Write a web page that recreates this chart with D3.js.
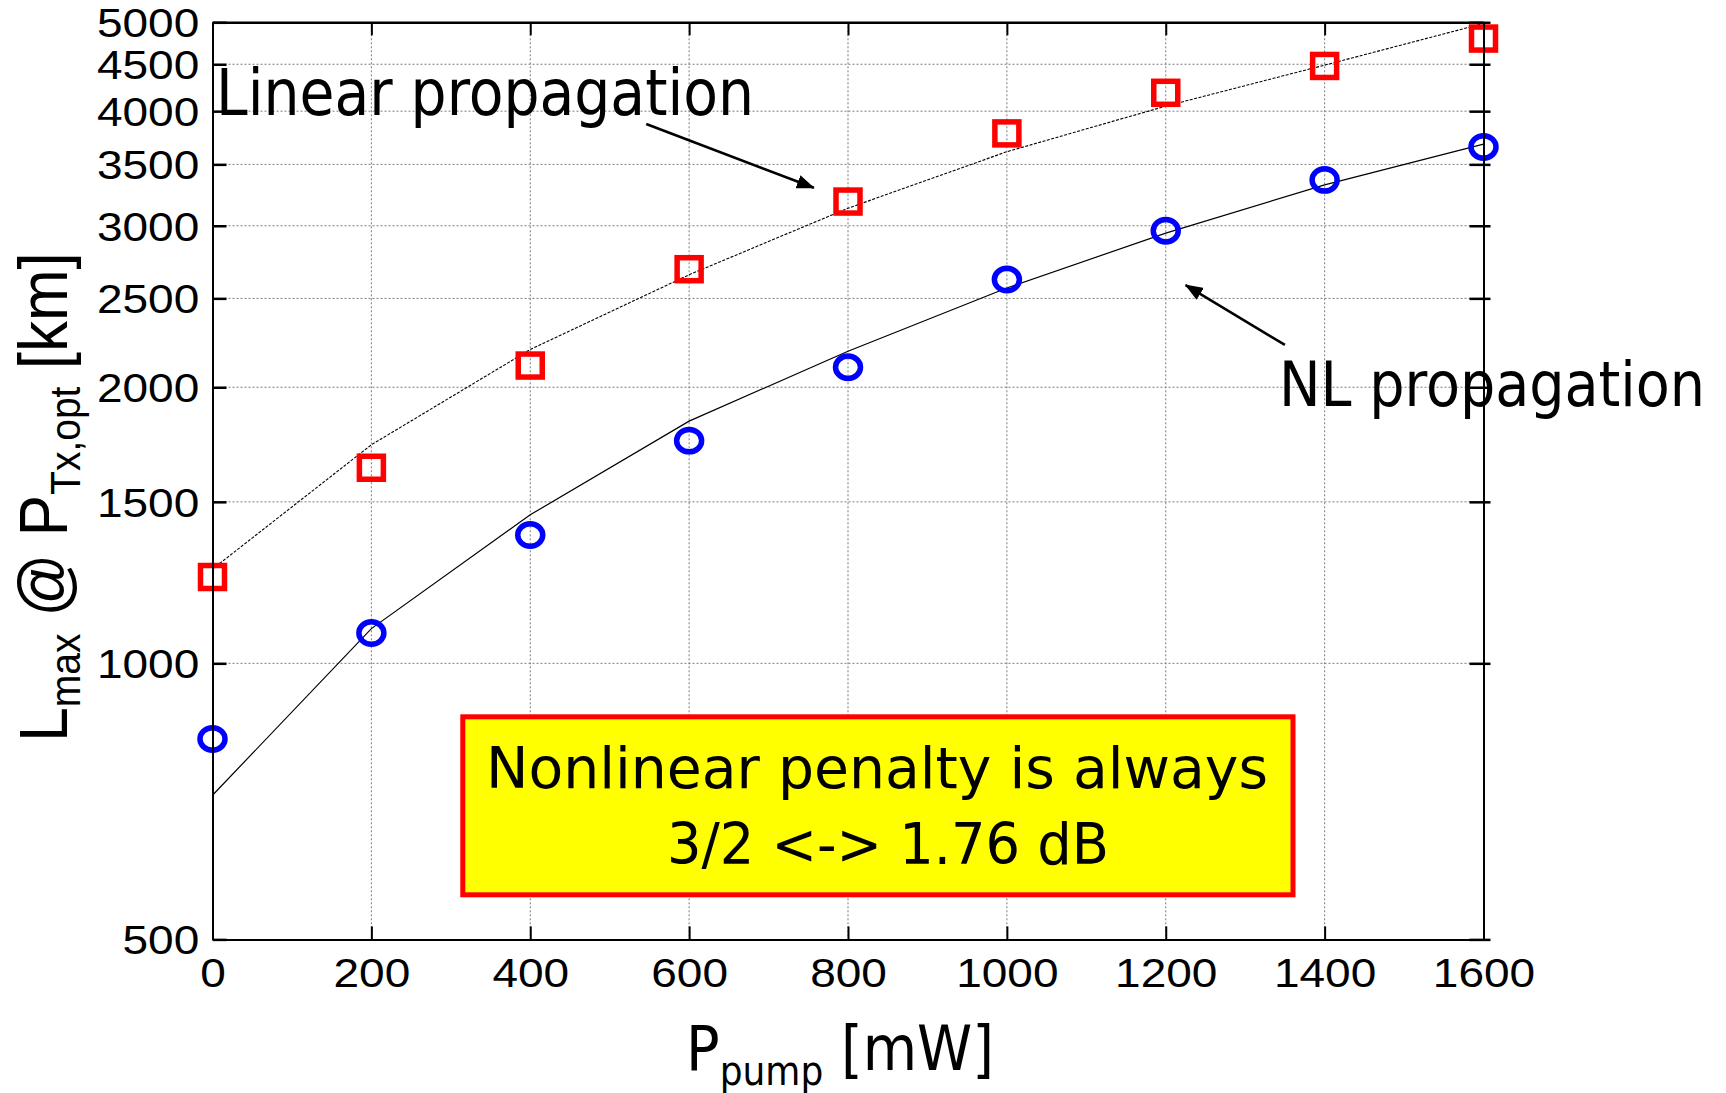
<!DOCTYPE html>
<html>
<head>
<meta charset="utf-8">
<script src="https://cdn.jsdelivr.net/npm/d3@7"></script>
<style>
  body { margin: 0; background: #fff; }
  svg { display: block; }
</style>
</head>
<body>
<div id="chart-container"></div>
<script>
// pump power on the x axis [mW]
const pumpPower = [0, 200, 400, 600, 800, 1000, 1200, 1400, 1600];
// simulated reach, red squares (linear propagation) [km]
const linearSim = [1242, 1634, 2112, 2690, 3188, 3783, 4189, 4481, 4800];
// simulated reach, blue circles (NL propagation) [km]
const nlSim = [827, 1079, 1380, 1749, 2103, 2621, 2963, 3366, 3656];
// analytical curves drawn through the markers
const linearFit = [1267, 1731, 2199, 2653, 3135, 3613, 4051, 4490, 4985];
const nlFit = [718, 1091, 1452, 1837, 2189, 2566, 2945, 3324, 3683];
// tick values
const xTicks = [0, 200, 400, 600, 800, 1000, 1200, 1400, 1600];
const yTicks = [500, 1000, 1500, 2000, 2500, 3000, 3500, 4000, 4500, 5000];
// arrow annotations in data units: [from, to]
const arrowLinear = [[546, 3873], [757, 3300]];
const arrowNL = [[1350, 2224], [1225, 2585]];

(function() {

    window.addEventListener("load", init);

    function init() {
        let chart = ReachChart({
            width: 1726,
            height: 1093
        });
        document.getElementById("chart-container").appendChild(chart);
    }

    function ReachChart({
        width = 1726,
        height = 1093,
        marginTop = 22.3,
        marginRight = 242.5,
        marginBottom = 153.6,
        marginLeft = 212.5,
        tickFont = "'Liberation Sans', Arial, sans-serif",
        noteFont = "'DejaVu Sans Condensed', 'DejaVu Sans', sans-serif"
    } = {}) {
        const xScale = d3.scaleLinear([0, 1600], [marginLeft, width - marginRight]);
        const yScale = d3.scaleLog([500, 5000], [height - marginBottom, marginTop]);

        const svg = d3.create("svg")
            .attr("width", width)
            .attr("height", height)
            .attr("viewBox", [0, 0, width, height]);

        svg.append("defs").append("marker")
            .attr("id", "arrowhead")
            .attr("markerUnits", "userSpaceOnUse")
            .attr("markerWidth", 18)
            .attr("markerHeight", 14)
            .attr("refX", 17)
            .attr("refY", 7)
            .attr("orient", "auto")
          .append("path")
            .attr("d", "M0,0L18,7L0,14Z")
            .attr("fill", "#000");

        // dotted grid
        const grid = svg.append("g")
            .attr("stroke", "#7a7a7a")
            .attr("stroke-width", 1)
            .attr("stroke-dasharray", "2,2");
        grid.selectAll("line.h")
          .data(yTicks.slice(1, -1))
          .join("line")
            .attr("class", "h")
            .attr("x1", marginLeft)
            .attr("x2", width - marginRight)
            .attr("y1", d => yScale(d))
            .attr("y2", d => yScale(d));
        grid.selectAll("line.v")
          .data(xTicks.slice(1, -1))
          .join("line")
            .attr("class", "v")
            .attr("x1", d => xScale(d))
            .attr("x2", d => xScale(d))
            .attr("y1", marginTop)
            .attr("y2", height - marginBottom);

        // curves
        const line = d3.line()
            .x((d, i) => xScale(pumpPower[i]))
            .y(d => yScale(d));

        svg.append("path")
            .attr("d", line(linearFit))
            .attr("fill", "none")
            .attr("stroke", "#000")
            .attr("stroke-width", 1.1)
            .attr("stroke-dasharray", "3,1.5");

        svg.append("path")
            .attr("d", line(nlFit))
            .attr("fill", "none")
            .attr("stroke", "#000")
            .attr("stroke-width", 1.2);

        // markers
        svg.append("g")
          .selectAll("rect")
          .data(linearSim)
          .join("rect")
            .attr("x", (d, i) => xScale(pumpPower[i]) - 12)
            .attr("y", d => yScale(d) - 11.5)
            .attr("width", 24)
            .attr("height", 23)
            .attr("fill", "none")
            .attr("stroke", "#ff0000")
            .attr("stroke-width", 5.5);

        svg.append("g")
          .selectAll("ellipse")
          .data(nlSim)
          .join("ellipse")
            .attr("cx", (d, i) => xScale(pumpPower[i]))
            .attr("cy", d => yScale(d))
            .attr("rx", 12.5)
            .attr("ry", 11.2)
            .attr("fill", "none")
            .attr("stroke", "#0000ff")
            .attr("stroke-width", 5.5);

        // axes
        const styleLabels = g => g
            .attr("font-family", tickFont)
            .attr("font-size", 40)
            .call(g => g.selectAll(".tick text")
                .attr("fill", "#000")
                .attr("transform", "scale(1.15,1)"));

        svg.append("g")
            .attr("transform", `translate(${marginLeft},0)`)
            .call(d3.axisLeft(yScale).tickValues(yTicks).tickFormat(d3.format("d"))
                .tickSize(-14).tickSizeOuter(0).tickPadding(11.5))
            .call(g => g.select(".domain").attr("stroke-width", 2))
            .call(g => g.selectAll(".tick line").attr("stroke-width", 2.5))
            .call(styleLabels)
            .call(g => g.selectAll(".tick text").attr("dy", "0.36em"));

        svg.append("g")
            .attr("transform", `translate(${width - marginRight},0)`)
            .call(d3.axisRight(yScale).tickValues(yTicks).tickFormat(() => "")
                .tickSize(-14).tickSizeOuter(0))
            .call(g => g.select(".domain").attr("stroke-width", 2))
            .call(g => g.selectAll(".tick line").attr("x1", 7).attr("stroke-width", 2.5));

        svg.append("g")
            .attr("transform", `translate(0,${height - marginBottom})`)
            .call(d3.axisBottom(xScale).tickValues(xTicks).tickFormat(d3.format("d"))
                .tickSize(-13).tickSizeOuter(0).tickPadding(19.5))
            .call(g => g.select(".domain").attr("stroke-width", 2))
            .call(g => g.selectAll(".tick line").attr("stroke-width", 2))
            .call(styleLabels);

        svg.append("g")
            .attr("transform", `translate(0,${marginTop})`)
            .call(d3.axisTop(xScale).tickValues(xTicks).tickFormat(() => "")
                .tickSize(-13).tickSizeOuter(0))
            .call(g => g.select(".domain").attr("stroke-width", 2.6))
            .call(g => g.selectAll(".tick line").attr("stroke-width", 2));

        // axis titles
        const yTitle = svg.append("text")
            .attr("transform", "translate(67,497) scale(1.1,1) rotate(-90)")
            .attr("text-anchor", "middle")
            .attr("font-family", tickFont)
            .attr("font-size", 62)
            .attr("fill", "#000");
        yTitle.append("tspan").text("L");
        yTitle.append("tspan").attr("font-size", 39).attr("dy", 12).text("max");
        yTitle.append("tspan").attr("dy", -12).text(" @ P");
        yTitle.append("tspan").attr("font-size", 39).attr("dy", 12).text("Tx,opt");
        yTitle.append("tspan").attr("dy", -12).text(" [km]");

        const xTitle = svg.append("text")
            .attr("x", 840)
            .attr("y", 1070)
            .attr("text-anchor", "middle")
            .attr("font-family", noteFont)
            .attr("font-size", 62)
            .attr("fill", "#000");
        xTitle.append("tspan").text("P");
        xTitle.append("tspan").attr("font-size", 40).attr("dy", 15).text("pump");
        xTitle.append("tspan").attr("dy", -15).text(" [mW]");

        // annotations
        [arrowLinear, arrowNL].forEach(a => {
            svg.append("line")
                .attr("x1", xScale(a[0][0]))
                .attr("y1", yScale(a[0][1]))
                .attr("x2", xScale(a[1][0]))
                .attr("y2", yScale(a[1][1]))
                .attr("stroke", "#000")
                .attr("stroke-width", 2.6)
                .attr("marker-end", "url(#arrowhead)");
        });

        addNote(svg, "Linear propagation", 216, 115, 64, 538, noteFont);
        addNote(svg, "NL propagation", 1279, 406, 63, 426, noteFont);

        svg.append("rect")
            .attr("x", 462.8)
            .attr("y", 716.8)
            .attr("width", 830.2)
            .attr("height", 178)
            .attr("fill", "#ffff00")
            .attr("stroke", "#ff0000")
            .attr("stroke-width", 5);

        addNote(svg, "Nonlinear penalty is always", 486, 788, 57, 782, noteFont);
        addNote(svg, "3/2 <-> 1.76 dB", 667, 864, 57, 442, noteFont);

        return svg.node();
    }

    function addNote(svg, label, x, y, size, len, font) {
        svg.append("text")
            .attr("x", x)
            .attr("y", y)
            .attr("font-family", font)
            .attr("font-size", size)
            .attr("textLength", len)
            .attr("lengthAdjust", "spacingAndGlyphs")
            .attr("fill", "#000")
            .text(label);
    }
})();
</script>
</body>
</html>
